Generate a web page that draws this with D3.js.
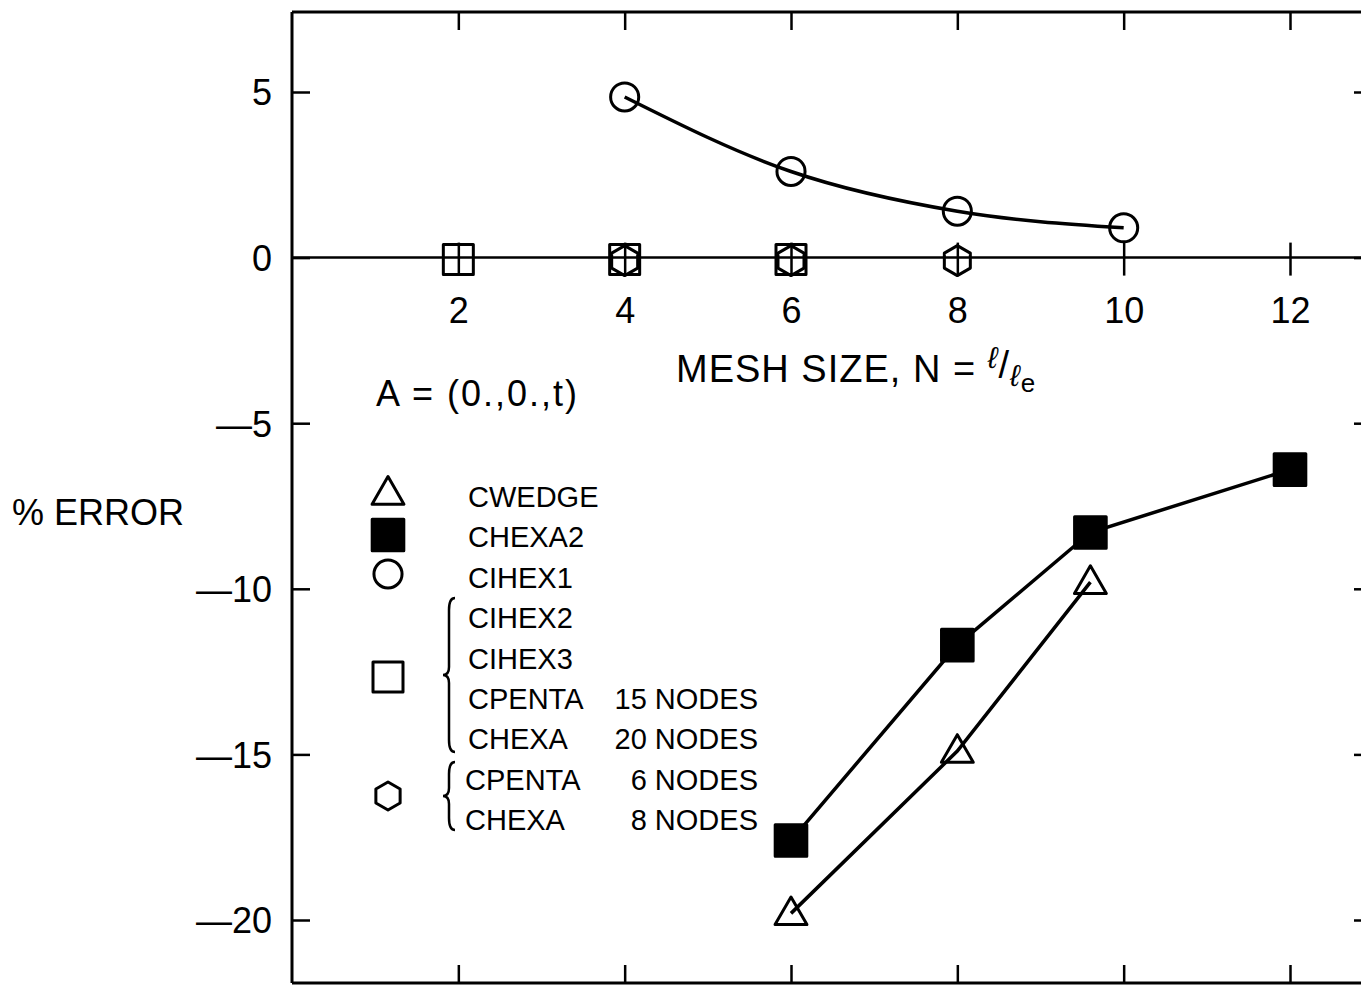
<!DOCTYPE html>
<html>
<head>
<meta charset="utf-8">
<script src="https://cdn.jsdelivr.net/npm/d3@7"></script>
<style>
  body { margin: 0; background: #fff; }
  svg { display: block; font-family: "Liberation Sans", Arial, sans-serif; }
</style>
</head>
<body>
<svg id="chart" width="1361" height="991"></svg>
<script>
// data
const xTicks = [2, 4, 6, 8, 10, 12];
const yTicks = [5, 0, -5, -10, -15, -20];

const cihex1N = [4, 6, 8, 10];
const cihex1Err = [4.85, 2.6, 1.4, 0.9];

const chexa2N = [6, 8, 9.6, 12];
const chexa2Err = [-17.6, -11.7, -8.3, -6.4];

const cwedgeN = [6, 8, 9.6];
const cwedgeErr = [-19.8, -14.9, -9.8];

// CIHEX2, CIHEX3, CPENTA 15, CHEXA 20 (open square)
const quadN = [2, 4, 6];
const quadErr = [0, 0, 0];

// CPENTA 6, CHEXA 8 (hexagon)
const linN = [4, 6, 8];
const linErr = [0, 0, 0];

const legendNames = ['CWEDGE', 'CHEXA2', 'CIHEX1', 'CIHEX2', 'CIHEX3', 'CPENTA', 'CHEXA', 'CPENTA', 'CHEXA'];
const legendNodes = ['', '', '', '', '', '15 NODES', '20 NODES', '6 NODES', '8 NODES'];

const W = 1361, H = 991;
const plotLeft = 292, plotTop = 12, plotBottom = 983;

const svg = d3.select('#chart');
const x = d3.scaleLinear().domain([0, 12]).range([plotLeft, 1290]);
const y = d3.scaleLinear().domain([-20, 5]).range([920, 92]);

const ink = '#000';

// frame lines
svg.append('line').attr('x1', plotLeft).attr('x2', W).attr('y1', plotTop).attr('y2', plotTop)
  .attr('stroke', ink).attr('stroke-width', 3);
svg.append('line').attr('x1', plotLeft).attr('x2', W).attr('y1', plotBottom).attr('y2', plotBottom)
  .attr('stroke', ink).attr('stroke-width', 3);
svg.append('line').attr('x1', plotLeft).attr('x2', W).attr('y1', y(0)).attr('y2', y(0))
  .attr('stroke', ink).attr('stroke-width', 2.5);

// left axis, ticks pointing in
let yAxis = svg.append('g')
  .attr('transform', `translate(${plotLeft},0)`)
  .call(d3.axisLeft(y).tickValues(yTicks).tickSize(-18).tickSizeOuter(0).tickPadding(20)
    .tickFormat(d => d < 0 ? '\u2014' + Math.abs(d) : d));
yAxis.select('.domain').remove();
yAxis.append('line').attr('x1', 0).attr('x2', 0).attr('y1', plotTop).attr('y2', plotBottom)
  .attr('stroke', ink).attr('stroke-width', 3);
yAxis.selectAll('.tick line').attr('stroke-width', 2.5);
yAxis.selectAll('.tick text').attr('font-size', 36).attr('fill', ink).attr('dy', '0.36em');

// right side ticks
let rAxis = svg.append('g')
  .attr('transform', `translate(${W},0)`)
  .call(d3.axisRight(y).tickValues(yTicks).tickSize(-7).tickFormat(''));
rAxis.select('.domain').remove();
rAxis.selectAll('.tick line').attr('stroke-width', 2.5);

// top and bottom ticks
let tAxis = svg.append('g')
  .attr('transform', `translate(0,${plotTop})`)
  .call(d3.axisTop(x).tickValues(xTicks).tickSize(-18).tickFormat(''));
tAxis.select('.domain').remove();
tAxis.selectAll('.tick line').attr('stroke-width', 2.5);

let bAxis = svg.append('g')
  .attr('transform', `translate(0,${plotBottom})`)
  .call(d3.axisBottom(x).tickValues(xTicks).tickSize(-18).tickFormat(''));
bAxis.select('.domain').remove();
bAxis.selectAll('.tick line').attr('stroke-width', 2.5);

// zero line axis with crossing ticks and labels
let zAxis = svg.append('g')
  .attr('transform', `translate(0,${y(0)})`)
  .call(d3.axisBottom(x).tickValues(xTicks).tickSize(18).tickPadding(22));
zAxis.select('.domain').remove();
zAxis.selectAll('.tick line').attr('y1', -15).attr('stroke-width', 2.5);
zAxis.selectAll('.tick text').attr('font-size', 36).attr('fill', ink);

// axis titles
svg.append('text').attr('x', 12).attr('y', 525).attr('font-size', 36).text('% ERROR');

let xt = svg.append('text').attr('x', 676).attr('y', 382).attr('font-size', 38)
  .attr('letter-spacing', 1);
xt.append('tspan').text('MESH SIZE, N = ');
xt.append('tspan').attr('font-size', 30).attr('font-style', 'italic').attr('dy', -14).text('\u2113');
xt.append('tspan').attr('font-size', 38).attr('dy', 10).text('/');
xt.append('tspan').attr('font-size', 30).attr('font-style', 'italic').attr('dy', 8).text('\u2113');
xt.append('tspan').attr('font-size', 26).attr('dy', 6).text('e');

svg.append('text').attr('x', 376).attr('y', 406).attr('font-size', 36)
  .attr('letter-spacing', 2).text('A = (0.,0.,t)');

// symbols
const sym = {
  triangle: d3.symbol().type(d3.symbolTriangle).size(440),
  square: d3.symbol().type(d3.symbolSquare).size(900),
  filled: d3.symbol().type(d3.symbolSquare).size(1000),
  circle: d3.symbol().type(d3.symbolCircle).size(620)
};
function hexPath(r) {
  const pts = d3.range(6).map(i => {
    const a = Math.PI / 6 + i * Math.PI / 3;
    return [r * Math.cos(a), r * Math.sin(a)];
  });
  return 'M' + pts.map(p => p.join(',')).join('L') + 'Z';
}

const lineGen = d3.line().x(d => x(d[0])).y(d => y(d[1]));
const curveGen = d3.line().x(d => x(d[0])).y(d => y(d[1])).curve(d3.curveMonotoneX);

svg.append('path').datum(d3.zip(cihex1N, cihex1Err)).attr('d', curveGen)
  .attr('fill', 'none').attr('stroke', ink).attr('stroke-width', 3.5);
svg.append('path').datum(d3.zip(chexa2N, chexa2Err)).attr('d', lineGen)
  .attr('fill', 'none').attr('stroke', ink).attr('stroke-width', 3.5);
svg.append('path').datum(d3.zip(cwedgeN, cwedgeErr)).attr('d', lineGen)
  .attr('fill', 'none').attr('stroke', ink).attr('stroke-width', 3.5);

function marks(xs, ys, path, fill, dy) {
  svg.append('g').selectAll('path').data(d3.zip(xs, ys)).join('path')
    .attr('transform', d => `translate(${x(d[0])},${y(d[1]) + (dy || 0)})`)
    .attr('d', path)
    .attr('fill', fill)
    .attr('stroke', ink).attr('stroke-width', 3).attr('stroke-linejoin', 'round');
}
marks(quadN, quadErr, sym.square(), 'none', 2);
marks(linN, linErr, hexPath(15), 'none', 3);
marks(cihex1N, cihex1Err, sym.circle(), 'none');
marks(chexa2N, chexa2Err, sym.filled(), ink);
marks(cwedgeN, cwedgeErr, sym.triangle(), 'none', 2);

// legend
const legY = d3.scaleLinear().domain([0, 8]).range([507, 830]);
svg.append('g').selectAll('text').data(legendNames).join('text')
  .attr('x', (d, i) => i >= 7 ? 465 : 468)
  .attr('y', (d, i) => legY(i))
  .attr('font-size', 29).text(d => d);
svg.append('g').selectAll('text').data(legendNodes).join('text')
  .attr('x', 758).attr('text-anchor', 'end')
  .attr('y', (d, i) => legY(i))
  .attr('font-size', 29).text(d => d);

const lx = 388;
const legendSym = [
  [sym.triangle(), 'none', 495],
  [sym.filled(), ink, 535],
  [sym.circle(), 'none', 574],
  [sym.square(), 'none', 677],
  [hexPath(14), 'none', 796]
];
svg.append('g').selectAll('path').data(legendSym).join('path')
  .attr('transform', d => `translate(${lx},${d[2]})`)
  .attr('d', d => d[0]).attr('fill', d => d[1])
  .attr('stroke', ink).attr('stroke-width', 3).attr('stroke-linejoin', 'round');

// braces
function brace(xr, y0, y1) {
  const m = (y0 + y1) / 2, xl = xr - 12, xm = xr - 6;
  return `M${xr},${y0} Q${xm},${y0} ${xm},${y0 + 12} L${xm},${m - 8} Q${xm},${m} ${xl},${m}` +
    ` Q${xm},${m} ${xm},${m + 8} L${xm},${y1 - 12} Q${xm},${y1} ${xr},${y1}`;
}
svg.append('path').attr('d', brace(455, 598, 752))
  .attr('fill', 'none').attr('stroke', ink).attr('stroke-width', 2.5);
svg.append('path').attr('d', brace(455, 762, 830))
  .attr('fill', 'none').attr('stroke', ink).attr('stroke-width', 2.5);
</script>
</body>
</html>
